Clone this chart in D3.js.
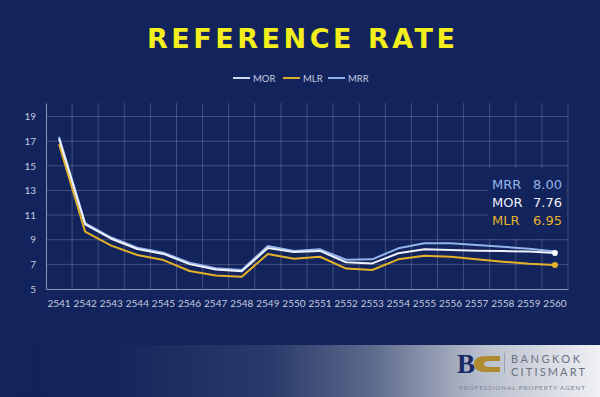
<!DOCTYPE html>
<html><head><meta charset="utf-8">
<script src="https://cdn.jsdelivr.net/npm/d3@7/dist/d3.min.js"></script>
<style>
html,body{margin:0;padding:0;background:#13235b;}
svg{display:block;font-family:Lato,"Open Sans",sans-serif;}
</style></head>
<body>
<svg id="c" width="600" height="397"></svg>
<script>
const years = ["2541","2542","2543","2544","2545","2546","2547","2548","2549","2550","2551","2552","2553","2554","2555","2556","2557","2558","2559","2560"];
const mrr = [17.35,10.35,9.18,8.35,7.95,7.14,6.68,6.55,8.49,8.08,8.22,7.38,7.41,8.30,8.71,8.71,8.57,8.43,8.27,8.05];
const mor = [17.20,10.25,9.08,8.25,7.85,7.02,6.58,6.45,8.32,8.00,8.09,7.17,7.08,7.90,8.22,8.17,8.11,8.08,8.05,7.92];
const mlr = [16.75,9.65,8.52,7.76,7.35,6.46,6.10,6.00,7.84,7.46,7.62,6.66,6.54,7.41,7.70,7.62,7.41,7.22,7.05,6.95];
const yTicks = [5,7,9,11,13,15,17,19];
const seriesNames = ["MOR","MLR","MRR"];
const latest = [{name:"MRR",value:"8.00"},{name:"MOR",value:"7.76"},{name:"MLR",value:"6.95"}];

const colors = {MRR:"#93b3ea", MOR:"#eef2fa", MLR:"#e3b22a"};
const legendColors = {MRR:"#8fb0e8", MOR:"#cfd9ee", MLR:"#d9ad2a"};
const bg = "#13235b";

const svg = d3.select("#c");
svg.append("rect").attr("width",600).attr("height",397).attr("fill",bg);

// footer gradient
const defs = svg.append("defs");
const g1 = defs.append("linearGradient").attr("id","foot").attr("x1","0").attr("x2","1").attr("y1","0").attr("y2","0");
g1.append("stop").attr("offset","0").attr("stop-color","#13235b");
g1.append("stop").attr("offset","0.18").attr("stop-color","#15255a");
g1.append("stop").attr("offset","0.45").attr("stop-color","#2a3a6a");
g1.append("stop").attr("offset","0.62").attr("stop-color","#5d6a8c");
g1.append("stop").attr("offset","0.8").attr("stop-color","#b7bdcc");
g1.append("stop").attr("offset","1").attr("stop-color","#f0f1f4");
svg.append("rect").attr("x",0).attr("y",345).attr("width",600).attr("height",52).attr("fill","url(#foot)");

// title
svg.append("text").attr("x",301).attr("y",48).attr("text-anchor","middle")
  .attr("fill","#f4ef1c").attr("font-size",27).attr("font-weight",700)
  .attr("font-family","DejaVu Sans, sans-serif")
  .attr("textLength",308).attr("lengthAdjust","spacing")
  .text("REFERENCE RATE");

// legend
const legendX = {MOR:233, MLR:283, MRR:328};
seriesNames.forEach(n=>{
  svg.append("line").attr("x1",legendX[n]).attr("x2",legendX[n]+17).attr("y1",78).attr("y2",78)
    .attr("stroke",legendColors[n]).attr("stroke-width",2);
  svg.append("text").attr("x",legendX[n]+20).attr("y",81.5).attr("fill","#c3cbe0")
    .attr("font-size",9.5).text(n);
});

const x = d3.scaleBand().domain(years).range([46,568]).padding(0);
const y = d3.scaleLinear().domain([5,20.1]).range([289,103]);
const cx = d => x(d)+x.bandwidth()/2;

const grid = svg.append("g");
yTicks.filter(t=>t>5).forEach(t=>{
  grid.append("line").attr("x1",46).attr("x2",568).attr("y1",y(t)).attr("y2",y(t))
    .attr("stroke","#ffffff").attr("stroke-opacity",0.2).attr("stroke-width",1);
});
years.slice(1).concat(["end"]).forEach(d=>{
  const xx = d==="end" ? 568 : x(d);
  grid.append("line").attr("x1",xx).attr("x2",xx).attr("y1",103).attr("y2",289)
    .attr("stroke","#ffffff").attr("stroke-opacity",0.2).attr("stroke-width",1);
});

// axes
const ya = svg.append("g").attr("transform","translate(46,0)")
  .call(d3.axisLeft(y).tickValues(yTicks).tickSize(0).tickPadding(10));
ya.select(".domain").attr("stroke","#8795bd").attr("stroke-width",1);
ya.selectAll("text").attr("fill","#c3cbe0").attr("font-size",10).attr("font-family","Lato, sans-serif");

const xa = svg.append("g").attr("transform","translate(0,289)")
  .call(d3.axisBottom(x).tickSize(0).tickPadding(11));
xa.select(".domain").attr("stroke","#8795bd").attr("stroke-width",1.2);
xa.selectAll("text").attr("fill","#c3cbe0").attr("font-size",10).attr("font-family","Lato, sans-serif");

// annotation box (covers gridlines)
svg.append("rect").attr("x",488).attr("y",168).attr("width",79).attr("height",71).attr("fill",bg);

// lines
const line = d3.line().x((d,i)=>cx(years[i])).y(d=>y(d));
const data = {MRR:mrr, MOR:mor, MLR:mlr};
["MLR","MRR","MOR"].forEach(n=>{
  svg.append("path").datum(data[n]).attr("d",line).attr("fill","none")
    .attr("stroke",colors[n]).attr("stroke-width",2).attr("stroke-linejoin","round");
});
// end dots
svg.append("circle").attr("cx",cx("2560")).attr("cy",y(mlr[mlr.length-1])).attr("r",3).attr("fill",colors.MLR);
svg.append("circle").attr("cx",cx("2560")).attr("cy",y(mor[mor.length-1])).attr("r",3).attr("fill","#ffffff");

// latest labels
latest.forEach((d,i)=>{
  const yy = 189 + i*18;
  svg.append("text").attr("x",492).attr("y",yy).attr("fill",colors[d.name]).attr("font-size",13)
    .attr("font-family","DejaVu Sans, sans-serif").text(d.name);
  svg.append("text").attr("x",533).attr("y",yy).attr("fill",colors[d.name]).attr("font-size",13)
    .attr("font-family","DejaVu Sans, sans-serif").text(d.value);
});

// logo
const logo = svg.append("g");
logo.append("text").attr("x",457).attr("y",373).attr("fill","#1b2a66").attr("font-size",27)
  .attr("font-family","Liberation Serif, serif").attr("font-weight",700).text("B");
logo.append("path").attr("d","M500,356 L486,356 Q474,356 474,364 Q474,372 486,372 L500,372 L500,367 L489,367 Q484,367 484,364 Q484,361 489,361 L500,361 Z")
  .attr("fill","#b08a2e");
logo.append("line").attr("x1",504.5).attr("x2",504.5).attr("y1",353).attr("y2",373).attr("stroke","#9aa0ae").attr("stroke-width",1);
logo.append("text").attr("x",511).attr("y",363).attr("fill","#6b7282").attr("font-size",11)
  .attr("textLength",69).attr("lengthAdjust","spacing").text("BANGKOK");
logo.append("text").attr("x",511).attr("y",376).attr("fill","#6b7282").attr("font-size",11)
  .attr("textLength",74).attr("lengthAdjust","spacing").text("CITISMART");
logo.append("text").attr("x",459).attr("y",390).attr("fill","#7d8496").attr("font-size",6.5)
  .attr("textLength",126).attr("lengthAdjust","spacing").text("PROFESSIONAL PROPERTY AGENT");
</script>
</body></html>
